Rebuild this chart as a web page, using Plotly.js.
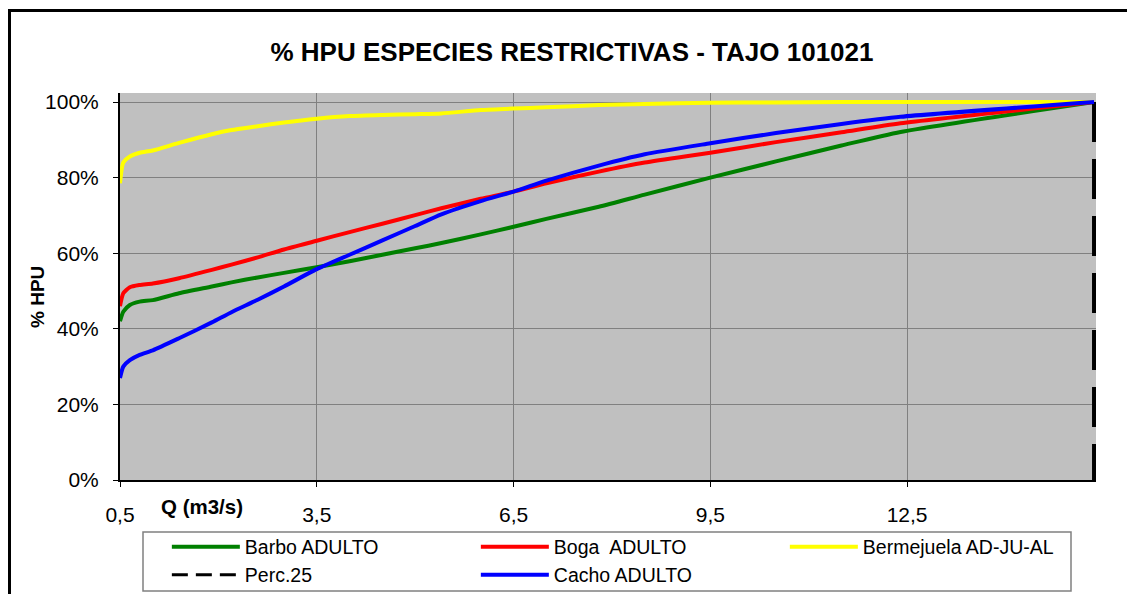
<!DOCTYPE html>
<html>
<head>
<meta charset="utf-8">
<script src="https://cdn.plot.ly/plotly-3.0.1.min.js"></script>
<style>
  html, body { margin: 0; padding: 0; background: #ffffff; overflow: hidden; }
  #chart { width: 1127px; height: 594px; position: relative; }
  #frame { position: absolute; left: 8px; top: 9px; width: 1300px; height: 800px;
           border: 3px solid #000; pointer-events: none; }
</style>
</head>
<body>
<div id="chart"></div>
<div id="frame"></div>
<script>
// Caudal (m3/s)
const flow = [0.5, 0.55, 0.65, 0.8, 1.0, 1.4, 1.9, 2.2, 2.6, 3.0, 3.5, 4.0, 4.5, 5.0, 5.4, 6.0, 6.5, 7.0, 7.8, 8.5, 9.5, 10.5, 11.5, 12.4, 15.35];

// % HPU por especie
const barbo = [0.42, 0.445, 0.463, 0.472, 0.476, 0.494, 0.512, 0.523, 0.536, 0.548, 0.563, 0.579, 0.596, 0.613, 0.627, 0.650, 0.670, 0.691, 0.723, 0.755, 0.800, 0.843, 0.885, 0.921, 1.0];
const boga = [0.46, 0.494, 0.510, 0.516, 0.520, 0.534, 0.556, 0.570, 0.589, 0.610, 0.633, 0.656, 0.678, 0.701, 0.719, 0.744, 0.763, 0.785, 0.816, 0.840, 0.866, 0.894, 0.920, 0.944, 1.0];
const bermejuela = [0.785, 0.840, 0.856, 0.866, 0.872, 0.892, 0.915, 0.926, 0.936, 0.946, 0.956, 0.963, 0.966, 0.968, 0.970, 0.979, 0.983, 0.986, 0.992, 0.995, 0.998, 0.999, 1.0, 1.0, 1.0];
const cacho = [0.27, 0.30, 0.317, 0.331, 0.343, 0.375, 0.417, 0.444, 0.477, 0.512, 0.558, 0.596, 0.634, 0.672, 0.703, 0.738, 0.763, 0.792, 0.832, 0.862, 0.891, 0.918, 0.942, 0.961, 1.0];

// Percentil 25
const perc25Flow = [15.35, 15.35];
const perc25Hpu = [1.0, 0.0];

const seriesNames = ['Barbo ADULTO', 'Boga  ADULTO', 'Bermejuela AD-JU-AL', 'Perc.25', 'Cacho ADULTO'];
const xTickVals = [0.5, 3.5, 6.5, 9.5, 12.5];
const xTickText = ['0,5', '3,5', '6,5', '9,5', '12,5'];

const FONT = 'Liberation Sans, Arial, sans-serif';

function curve(y, name, color) {
  return { x: flow, y: y, name: name, type: 'scatter', mode: 'lines',
           line: { color: color, width: 4, shape: 'spline', smoothing: 0.6 },
           hoverinfo: 'skip' };
}

const traces = [
  curve(barbo, seriesNames[0], '#008000'),
  curve(boga, seriesNames[1], '#FF0000'),
  curve(bermejuela, seriesNames[2], '#FFFF00'),
  { x: perc25Flow, y: perc25Hpu, name: seriesNames[3], type: 'scatter', mode: 'lines',
    line: { color: '#000000', width: 4, dash: '40px,17px' }, hoverinfo: 'skip', showlegend: false },
  // legend entry for Perc.25 (short dashes as in the legend key)
  { x: [null], y: [null], name: seriesNames[3], type: 'scatter', mode: 'lines',
    line: { color: '#000000', width: 3, dash: '16px,8px' }, hoverinfo: 'skip', legend: 'legend2' },
  Object.assign(curve(cacho, seriesNames[4], '#0000FF'), { legend: 'legend2' })
];

const axisCommon = {
  showgrid: true, gridcolor: '#808080', gridwidth: 1,
  showline: true, linecolor: '#000000', linewidth: 2,
  ticks: 'outside', ticklen: 5, tickcolor: '#000000', tickwidth: 1,
  zeroline: false, fixedrange: true,
  tickfont: { family: FONT, size: 21, color: '#000000' }
};

const legendCommon = {
  orientation: 'h', xanchor: 'left', yanchor: 'middle',
  bgcolor: 'rgba(0,0,0,0)', borderwidth: 0,
  entrywidth: 226, entrywidthmode: 'pixels', itemwidth: 68,
  font: { family: FONT, size: 19.5, color: '#000000' }, traceorder: 'normal'
};

const layout = {
  width: 1127, height: 594,
  margin: { l: 120, r: 31, t: 93, b: 114, pad: 0, autoexpand: false },
  paper_bgcolor: '#FFFFFF', plot_bgcolor: '#C0C0C0',
  showlegend: true,
  title: { text: '<b>% HPU ESPECIES RESTRICTIVAS - TAJO 101021</b>',
           font: { family: FONT, size: 26, color: '#000000' },
           xref: 'container', x: 572 / 1127, xanchor: 'center',
           yref: 'container', y: 1 - 52 / 594, yanchor: 'middle' },
  xaxis: Object.assign({}, axisCommon, { range: [0.5, 15.38], tickvals: xTickVals, ticktext: xTickText, ticklabelstandoff: 10 }),
  yaxis: Object.assign({}, axisCommon, { range: [0, 1.024], dtick: 0.2, tickformat: '.0%', ticklabelstandoff: 10 }),
  legend: Object.assign({}, legendCommon, { x: 0.048, y: -(547 - 480) / 387 }),
  legend2: Object.assign({}, legendCommon, { x: 0.048, y: -(575 - 480) / 387 }),
  shapes: [
    { type: 'rect', xref: 'paper', yref: 'paper',
      x0: (143 - 120) / 976, x1: (1071 - 120) / 976,
      y0: -(591 - 480) / 387, y1: -(532 - 480) / 387,
      line: { color: '#808080', width: 1.5 }, fillcolor: 'rgba(0,0,0,0)' }
  ],
  annotations: [
    { text: '<b>Q (m3/s)</b>', xref: 'paper', yref: 'paper', x: (202 - 120) / 976, y: -(507 - 480) / 387,
      xanchor: 'center', yanchor: 'middle', showarrow: false,
      font: { family: FONT, size: 20.5, color: '#000000' } },
    { text: '<b>% HPU</b>', xref: 'paper', yref: 'paper', x: (37 - 120) / 976, y: (480 - 297) / 387,
      xanchor: 'center', yanchor: 'middle', showarrow: false, textangle: -90,
      font: { family: FONT, size: 19, color: '#000000' } }
  ]
};

Plotly.newPlot('chart', traces, layout, { displayModeBar: false, staticPlot: true });
</script>
</body>
</html>
